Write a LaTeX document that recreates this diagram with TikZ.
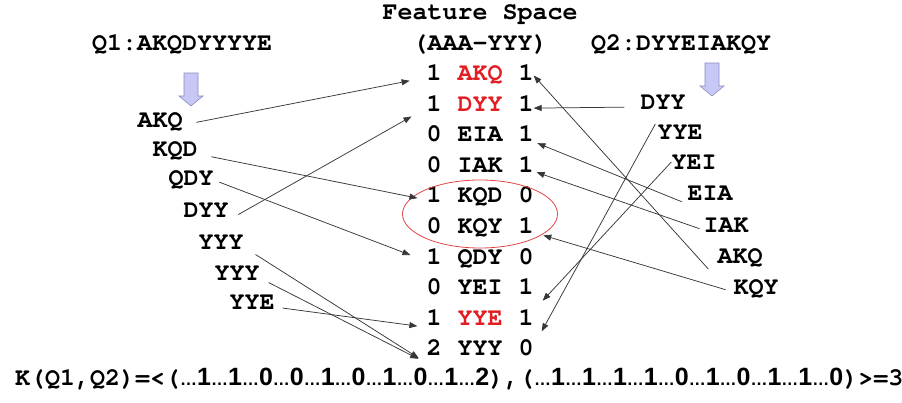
\documentclass[tikz,border=0pt]{standalone}
\usepackage{fontspec}
\setmainfont{TeX Gyre Cursor}
\newfontfamily\digitsans{Liberation Sans}
\usetikzlibrary{arrows.meta}
\definecolor{featred}{RGB}{226,30,36}
\definecolor{ringred}{RGB}{222,70,70}
\definecolor{linkgray}{RGB}{55,55,55}
\definecolor{lavfill}{RGB}{200,200,246}
\definecolor{lavline}{RGB}{140,140,190}
% small dots between the vector entries
\newcommand\ellip{{\fontsize{17}{17}\selectfont …}}
\begin{document}
\begin{tikzpicture}[x=1pt,y=-1pt,
  lbl/.style={font=\fontsize{25}{30}\selectfont\bfseries, inner sep=0pt,
              text height=0.58em, text depth=0pt},
  hl/.style={lbl, text=featred},
  link/.style={draw=linkgray, line width=0.75pt,
               -{Triangle[length=8pt,width=6pt]}},
  downarrow/.style={draw=lavline, fill=lavfill, line width=0.6pt}]
\useasboundingbox (0,0) rectangle (902,402);

% headings
\node[lbl] (fs)  at (480,17) {Feature Space};
\node[lbl] (aaa) at (480,48) {(AAA-YYY)};
\node[lbl] (q1)  at (182,48) {Q1:AKQDYYYYE};
\node[lbl] (q2)  at (681,48) {Q2:DYYEIAKQY};

% block arrows under the two sequences
\draw[downarrow] (184,73) -- (198,73) -- (198,96) -- (203,96) -- (191,106)
  -- (179,96) -- (184,96) -- cycle;
\draw[downarrow] (705,63) -- (719,63) -- (719,86) -- (724,86) -- (712,96)
  -- (700,86) -- (705,86) -- cycle;

% feature space table: count in Q1, 3-mer, count in Q2
\foreach \i/\a/\w/\b/\s in {1/1/AKQ/1/hl, 2/1/DYY/1/hl, 3/0/EIA/1/lbl,
    4/0/IAK/1/lbl, 5/1/KQD/0/lbl, 6/0/KQY/1/lbl, 7/1/QDY/0/lbl,
    8/0/YEI/1/lbl, 9/1/YYE/1/hl, 10/2/YYY/0/lbl}{
  \pgfmathsetmacro\yy{77.5+30.6*(\i-1)}
  \node[lbl] (L\i) at (434,\yy) {\a};
  \node[\s]  (W\i) at (480,\yy) {\w};
  \node[lbl] (R\i) at (526,\yy) {\b};
}

% shared features
\draw[ringred, line width=0.8pt] (480,214) ellipse [x radius=77.5, y radius=34];

% 3-mers of Q1
\node[lbl] (a1) at (160,125) {AKQ};
\node[lbl] (a2) at (175,154) {KQD};
\node[lbl] (a3) at (191,183) {QDY};
\node[lbl] (a4) at (206,215) {DYY};
\node[lbl] (a5) at (221,247) {YYY};
\node[lbl] (a6) at (237,278) {YYY};
\node[lbl] (a7) at (252,307) {YYE};

% 3-mers of Q2
\node[lbl] (b1) at (663,107) {DYY};
\node[lbl] (b2) at (680,137) {YYE};
\node[lbl] (b3) at (694,167) {YEI};
\node[lbl] (b4) at (710,198) {EIA};
\node[lbl] (b5) at (726,230) {IAK};
\node[lbl] (b6) at (740,261) {AKQ};
\node[lbl] (b7) at (756,292) {KQY};

% Q1 links
\draw[link, shorten <=14pt, shorten >=17pt] (a1.east) -- (L1.west);
\draw[link, shorten <=11pt, shorten >=17pt] ([yshift=-5pt]a4.east) -- (L2.west);
\draw[link, shorten <=14pt, shorten >=9pt]  (a2.east) -- (L5.west);
\draw[link, shorten <=6pt,  shorten >=17pt] ([yshift=3pt]a3.east) -- (L7.west);
\draw[link, shorten <=14pt, shorten >=9pt]  (a5.east) -- ([yshift=-10pt]L10.west);
\draw[link, shorten <=10pt, shorten >=9pt]  (a6.east) -- ([yshift=-10pt]L10.west);
\draw[link, shorten <=8pt,  shorten >=9pt]  (a7.east) -- ([yshift=-5pt]L9.west);

% Q2 links
\draw[link, shorten <=16pt, shorten >=0pt] (b1.west) -- (R2.east);
\draw[link, shorten <=0pt,  shorten >=0pt] ([shift={(-2pt,13pt)}]b2.west) -- ([shift={(8pt,-9pt)}]R9.east);
\draw[link, shorten <=0pt,  shorten >=0pt] ([yshift=5pt]b3.west) -- ([shift={(9pt,-9pt)}]R8.east);
\draw[link, shorten <=6pt,  shorten >=4pt] ([yshift=-6pt]b4.west) -- ([yshift=-3pt]R3.east);
\draw[link, shorten <=4pt,  shorten >=3pt] (b5.west) -- ([yshift=-2pt]R4.east);
\draw[link, shorten <=0pt,  shorten >=0pt] ([shift={(-9pt,-8pt)}]b6.west) -- ([yshift=2pt]R1.east);
\draw[link, shorten <=8pt,  shorten >=10pt] (b7.west) -- ([yshift=-2pt]R6.east);

% kernel value
\node[lbl, anchor=west] (kern) at (15,383) {K(Q1,Q2)=<({\digitsans\bfseries
  \ellip1\ellip1\ellip0\ellip0\ellip1\ellip0\ellip1\ellip0\ellip1\ellip2}),({\digitsans\bfseries
  \ellip1\ellip1\ellip1\ellip1\ellip0\ellip1\ellip0\ellip1\ellip1\ellip0})>=3};
\end{tikzpicture}
\end{document}
